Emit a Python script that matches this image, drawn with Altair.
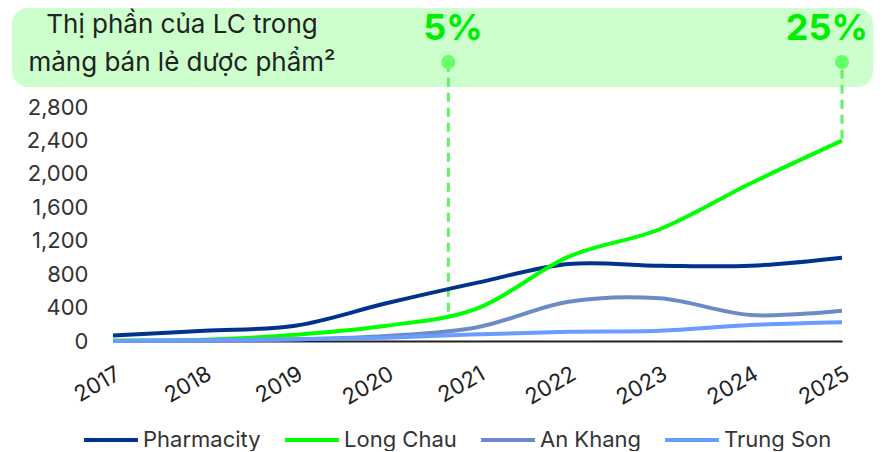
import altair as alt
import pandas as pd

# ---------------- data ----------------
years = [2017, 2018, 2019, 2020, 2021, 2022, 2023, 2024, 2025]
pharmacity = [65, 123, 183, 451, 698, 921, 901, 901, 997]
long_chau = [5, 15, 75, 182, 391, 1009, 1337, 1887, 2397]
an_khang = [0, 5, 20, 60, 164, 470, 511, 311, 363]
trung_son = [0, 10, 20, 40, 80, 111, 123, 191, 224]

series_names = ["Pharmacity", "Long Chau", "An Khang", "Trung Son"]
series_colors = ["#00338d", "#00ff00", "#6b8bc8", "#6a9cff"]
y_ticks = [0, 400, 800, 1200, 1600, 2000, 2400, 2800]

marker_years = [2020.68, 2025]
marker_values = [350, 2420]
marker_labels = ["5%", "25%"]
banner_lines = ["Thị phần của LC trong", "mảng bán lẻ dược phẩm²"]

rows = []
for name, vals in zip(series_names, [pharmacity, long_chau, an_khang, trung_son]):
    for yr, v in zip(years, vals):
        rows.append({"year": yr, "value": v, "series": name})
df = pd.DataFrame(rows)
markers = pd.DataFrame({"year": marker_years, "value": marker_values, "label": marker_labels})
one = pd.DataFrame({"k": [0]})

x_scale = alt.Scale(domain=[2017, 2025], nice=False, zero=False)
y_scale = alt.Scale(domain=[0, 2800], nice=False)

x_axis = alt.Axis(values=years, labelExpr="format(datum.value, 'd')", labelAngle=-30,
                  labelAlign="right", labelBaseline="top", labelPadding=22, labelFontSize=22,
                  labelColor="#222222", ticks=False, grid=False,
                  domainColor="#222222", domainWidth=2, labelOverlap=False, title=None)
y_axis = alt.Axis(values=y_ticks, labelExpr="format(datum.value, ',')", labelFontSize=22,
                  labelColor="#333333", labelPadding=25, ticks=False, grid=False, domain=False,
                  labelOverlap=False, title=None)

lines = alt.Chart(df).mark_line(interpolate="cardinal", strokeWidth=4).encode(
    x=alt.X("year:Q", scale=x_scale, axis=x_axis),
    y=alt.Y("value:Q", scale=y_scale, axis=y_axis),
    color=alt.Color("series:N", scale=alt.Scale(domain=series_names, range=series_colors),
                    legend=alt.Legend(title=None, orient="none", direction="horizontal",
                                      legendX=-31, legendY=304, symbolType="stroke",
                                      symbolSize=2900, symbolStrokeWidth=4,
                                      labelFontSize=22, labelColor="#333333",
                                      labelOffset=3, columnPadding=16, padding=0)),
)

banner = alt.Chart(one).mark_rect(cornerRadius=16, color="#ccffcc").encode(
    x=alt.value(-101), x2=alt.value(760), y=alt.value(-99), y2=alt.value(-20)
)

line1 = alt.Chart(one).mark_text(fontSize=26, color="#222222", align="center", baseline="middle").encode(
    x=alt.value(69), y=alt.value(-82), text=alt.value(banner_lines[0])
)
line2 = alt.Chart(one).mark_text(fontSize=26, color="#222222", align="center", baseline="middle").encode(
    x=alt.value(69), y=alt.value(-44), text=alt.value(banner_lines[1])
)

pct1 = alt.Chart(one).mark_text(fontSize=36, fontWeight="bold", color="#00ee00",
                                align="center", baseline="middle").encode(
    x=alt.value(340), y=alt.value(-78), text=alt.value(marker_labels[0])
)
pct2 = alt.Chart(one).mark_text(fontSize=36, fontWeight="bold", color="#00ee00",
                                align="right", baseline="middle").encode(
    x=alt.value(755), y=alt.value(-78), text=alt.value(marker_labels[1])
)

rules = alt.Chart(markers).mark_rule(color="#66ee66", strokeWidth=3, strokeDash=[9, 6]).encode(
    x=alt.X("year:Q", scale=x_scale, axis=x_axis),
    y=alt.Y("value:Q", scale=y_scale, axis=y_axis),
    y2=alt.value(-40),
)
dots = alt.Chart(markers).mark_circle(size=200, color="#66ff66", opacity=1).encode(
    x=alt.X("year:Q", scale=x_scale, axis=x_axis),
    y=alt.value(-45),
)

chart = alt.layer(banner, line1, line2, pct1, pct2, rules, dots, lines).properties(
    width=729, height=234,
    padding={"left": 4, "top": 0, "right": 0, "bottom": 0},
).configure(font="Inter").configure_view(strokeWidth=0)

chart.save("out.html", embed_options={"renderer": "svg", "actions": False})
